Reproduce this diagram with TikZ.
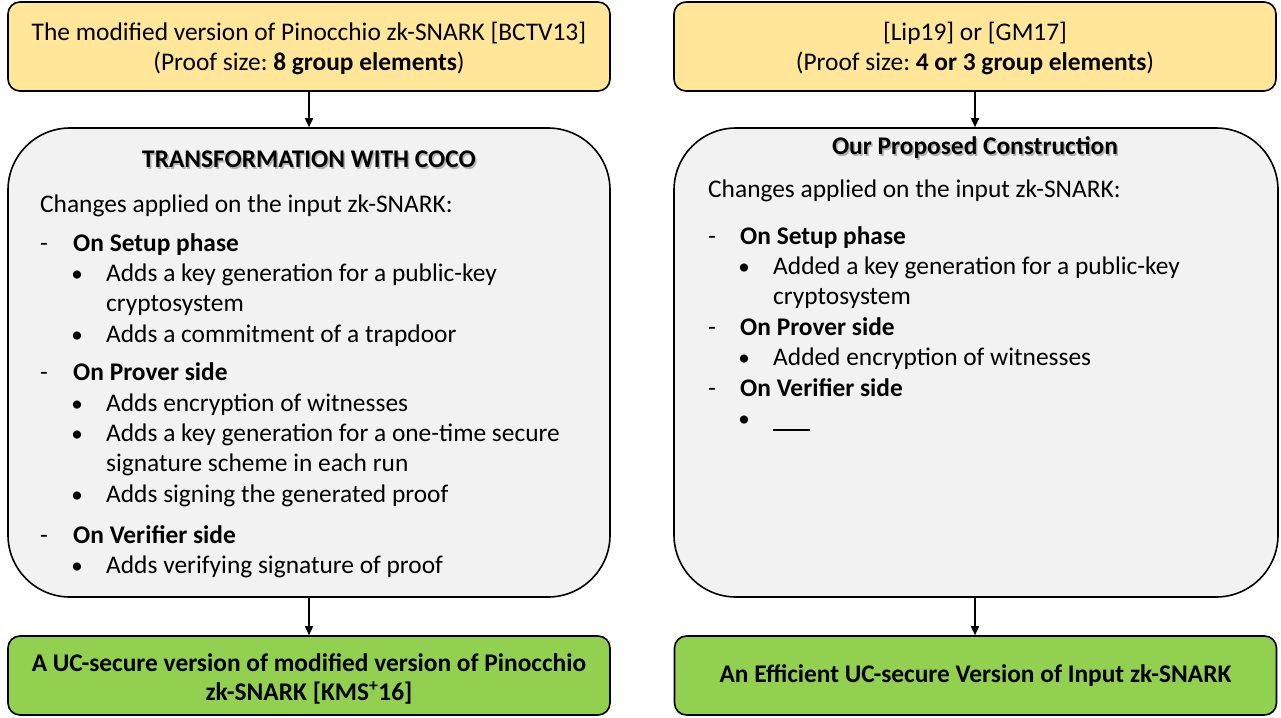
\documentclass[tikz,border=0pt]{standalone}
\usepackage{fontspec}
\setmainfont{Carlito}
\frenchspacing
\usetikzlibrary{arrows.meta}

\definecolor{inyellow}{HTML}{FFE699}
\definecolor{outgreen}{HTML}{92D050}
\definecolor{midgrey}{HTML}{F2F2F2}

\tikzset{
  inbox/.style={draw, line width=1.6pt, rounded corners=12pt, fill=inyellow,
    minimum width=602pt, minimum height=89pt, align=center, inner sep=0pt,
    font=\fontsize{25.4}{30}\selectfont},
  midbox/.style={draw, line width=1.6pt, rounded corners=62pt, fill=midgrey,
    minimum height=469pt},
  outbox/.style={draw, line width=1.6pt, rounded corners=12pt, fill=outgreen,
    minimum width=602pt, minimum height=79pt, align=center, inner sep=0pt,
    font=\fontsize{25.4}{29}\selectfont\bfseries},
  txt/.style={anchor=west, inner sep=0pt, text height=20pt, text depth=4.8pt,
    font=\fontsize{25.4}{30}\selectfont},
  hdr/.style={txt, font=\fontsize{25.4}{30}\selectfont\bfseries},
  blt/.style={anchor=base, inner sep=0pt, font=\fontsize{23}{26}\selectfont},
  ttl/.style={inner sep=0pt, text height=20pt, text depth=4.8pt,
    font=\fontsize{25.4}{30}\selectfont\bfseries},
  arr/.style={-{Triangle[length=9pt,width=8pt]}, line width=1.6pt},
}

\begin{document}
\begin{tikzpicture}[x=1pt,y=-1pt]
  \useasboundingbox (0,0) rectangle (1281,717);
  % left column: COCO
  \node[inbox] (inL) at (309,46.5)
    {\rule{0pt}{23pt}The modified version of Pinocchio zk-SNARK [BCTV13]\\(Proof size: \textbf{8 group elements})};
  \node[midbox, minimum width=602pt] (midL) at (309,362.5) {};
  \node[outbox] (outL) at (309,675.5)
    {\rule{0pt}{25pt}A UC-secure version of modified version of Pinocchio\\zk-SNARK [KMS\textsuperscript{+}16]};
  \draw[arr] (inL) -- (midL);
  \draw[arr] (midL) -- (outL);
  \node[ttl, text=black!30] (tLs) at (310.5,161.5) {TRANSFORMATION WITH COCO};
  \node[ttl] (tL) at (309,160) {TRANSFORMATION WITH COCO};
  \node[txt] (cL) at (40,205) {Changes applied on the input zk-SNARK:};
  \foreach \y/\t [count=\i] in {244/On Setup phase,373/On Prover side,536/On Verifier side}{
    \node[txt] (dL\i) at (40,\y) {-};
    \node[hdr] (hL\i) at (73,\y) {\t};
  }
  \foreach \y [count=\i] in {274,335,404,434,495,566}
    \node[blt] (bL\i) at (77,\y+7.6) {\textbullet};
  \foreach \y/\t [count=\i] in {274/Adds a key generation for a public-key,
      304/cryptosystem,335/Adds a commitment of a trapdoor,
      404/Adds encryption of witnesses,
      434/Adds a key generation for a one-time secure,
      464/signature scheme in each run,495/Adds signing the generated proof,
      566/Adds verifying signature of proof}
    \node[txt] (iL\i) at (106,\y) {\t};
  % right column: our construction
  \node[inbox] (inR) at (975,46.5)
    {\rule{0pt}{23pt}[Lip19] or [GM17]\\(Proof size: \textbf{4 or 3 group elements})};
  \node[midbox, minimum width=604pt] (midR) at (976,362.5) {};
  \node[outbox] (outR) at (975.5,675.5) {An Efficient UC-secure Version of Input zk-SNARK};
  \draw[arr] (inR) -- (midR.north -| inR);
  \draw[arr] (midR.south -| inR) -- (outR.north -| inR);
  \node[ttl, text=black!30] (tRs) at (976.5,148.5) {Our Proposed Construction};
  \node[ttl] (tR) at (975,147) {Our Proposed Construction};
  \node[txt] (cR) at (708,190) {Changes applied on the input zk-SNARK:};
  \foreach \y/\t [count=\i] in {237/On Setup phase,328/On Prover side,389/On Verifier side}{
    \node[txt] (dR\i) at (708,\y) {-};
    \node[hdr] (hR\i) at (740,\y) {\t};
  }
  \foreach \y [count=\i] in {267,358,419}
    \node[blt] (bR\i) at (744,\y+7.6) {\textbullet};
  \foreach \y/\t [count=\i] in {267/Added a key generation for a public-key,
      297/cryptosystem,358/Added encryption of witnesses}
    \node[txt] (iR\i) at (773,\y) {\t};
  \node[txt] (iR4) at (773,423) {\rule{37pt}{1.3pt}};
\end{tikzpicture}
\end{document}
